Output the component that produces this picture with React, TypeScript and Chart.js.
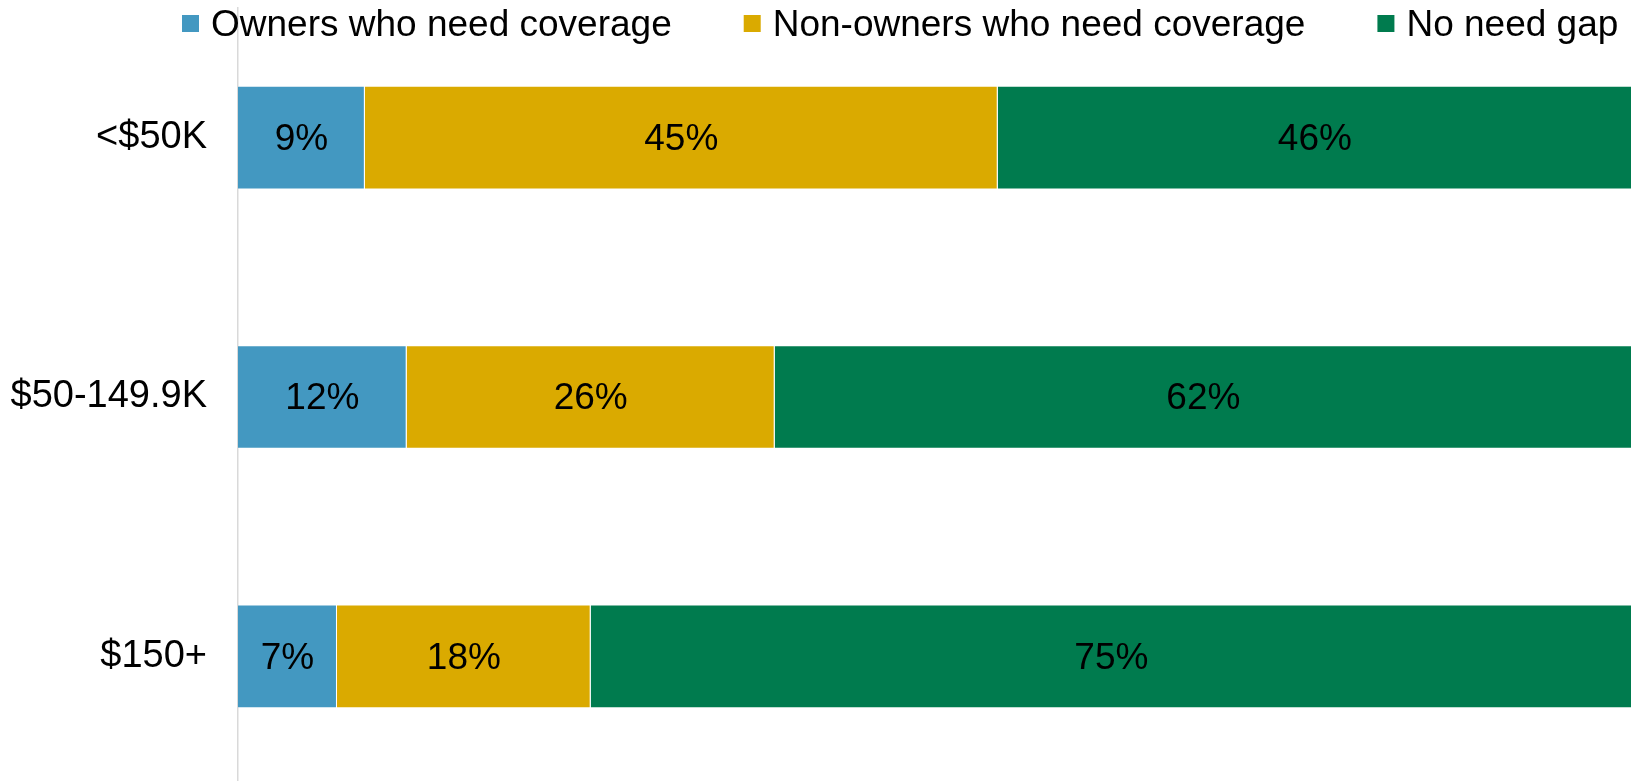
import React, { useEffect, useRef } from "react";
import { Chart, registerables } from "chart.js";

Chart.register(...registerables);

const categories = ["<$50K", "$50-149.9K", "$150+"];
const seriesNames = ["Owners who need coverage", "Non-owners who need coverage", "No need gap"];
const ownersNeed = [9.1, 12.1, 7.1];
const nonOwnersNeed = [45.4, 26.4, 18.2];
const noNeedGap = [45.5, 61.5, 74.7];
const ownersLabels = ["9%", "12%", "7%"];
const nonOwnersLabels = ["45%", "26%", "18%"];
const noNeedLabels = ["46%", "62%", "75%"];
const colors = ["#4398C1", "#DAAA00", "#007B4E"];

const FONT = "'Liberation Sans', Arial, sans-serif";
const FONT_SIZE = 37;

const valueLabels = [ownersLabels, nonOwnersLabels, noNeedLabels];

const segmentLabelPlugin = {
  id: "segmentLabels",
  afterDatasetsDraw(chart: any) {
    const ctx = chart.ctx;
    ctx.save();
    ctx.font = `${FONT_SIZE}px ${FONT}`;
    ctx.fillStyle = "#000000";
    ctx.textAlign = "center";
    ctx.textBaseline = "middle";
    chart.data.datasets.forEach((ds: any, di: number) => {
      const meta = chart.getDatasetMeta(di);
      meta.data.forEach((bar: any, i: number) => {
        const cx = (bar.x + bar.base) / 2;
        ctx.fillText(valueLabels[di][i], cx, bar.y + 2);
      });
    });
    ctx.restore();
  },
};

const overlayLegendPlugin = {
  id: "overlayLegend",
  afterDraw(chart: any) {
    const ctx = chart.ctx;
    ctx.save();
    ctx.font = `${FONT_SIZE}px ${FONT}`;
    ctx.textAlign = "left";
    ctx.textBaseline = "middle";
    let x = 182;
    const box = 17;
    const boxTop = 15;
    chart.data.datasets.forEach((ds: any) => {
      ctx.fillStyle = ds.backgroundColor;
      ctx.fillRect(x, boxTop, box, box);
      ctx.fillStyle = "#000000";
      const tx = x + box + 12;
      ctx.fillText(ds.label, tx, boxTop + box / 2 + 2);
      x = tx + ctx.measureText(ds.label).width + 72;
    });
    ctx.restore();
  },
};

export default function App() {
  const canvasRef = useRef<HTMLCanvasElement | null>(null);

  useEffect(() => {
    if (!canvasRef.current) return;
    const seriesValues = [ownersNeed, nonOwnersNeed, noNeedGap];
    const chart = new Chart(canvasRef.current, {
      type: "bar",
      data: {
        labels: categories,
        datasets: seriesValues.map((vals, i) => ({
          label: seriesNames[i],
          data: vals,
          backgroundColor: colors[i],
          borderColor: "rgba(255,255,255,0.35)",
          borderWidth: 1,
          categoryPercentage: 0.8,
          barPercentage: 0.5,
        })),
      },
      options: {
        indexAxis: "y",
        responsive: false,
        animation: false,
        layout: { padding: { top: 8, bottom: 4, left: 0, right: 0 } },
        plugins: {
          legend: { display: false },
          tooltip: { enabled: false },
        },
        scales: {
          x: {
            stacked: true,
            display: false,
            min: 0,
            max: 100,
          },
          y: {
            stacked: true,
            grid: { display: false, drawTicks: false },
            border: { display: true, color: "#D9D9D9", width: 1.5 },
            ticks: {
              color: "#000000",
              padding: 31,
              font: { family: FONT, size: 38 },
            },
            afterFit(scale: any) {
              scale.width = 238;
              scale.paddingTop = 0;
              scale.paddingBottom = 0;
            },
          },
        },
      },
      plugins: [segmentLabelPlugin, overlayLegendPlugin],
    } as any);
    return () => chart.destroy();
  }, []);

  return (
    <div
      style={{
        position: "fixed",
        top: 0,
        left: 0,
        width: 1632,
        height: 781,
        overflow: "hidden",
        background: "#ffffff",
      }}
    >
      <canvas ref={canvasRef} width={1632} height={790} style={{ display: "block" }} />
    </div>
  );
}
